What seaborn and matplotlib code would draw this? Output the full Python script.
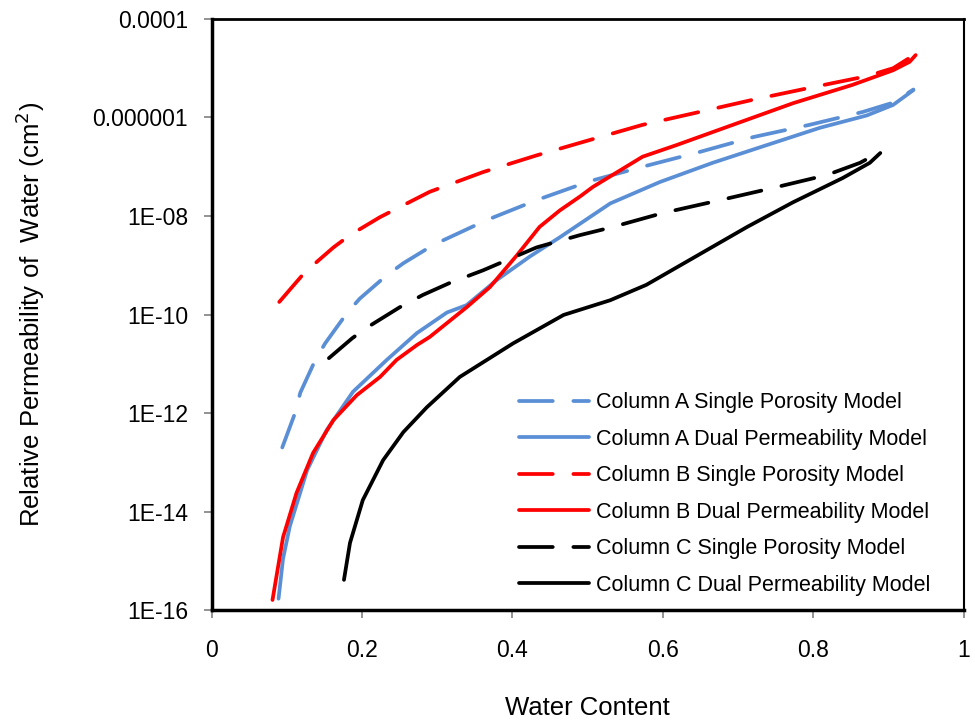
import numpy as np
import pandas as pd
import matplotlib
matplotlib.use("Agg")
import matplotlib.pyplot as plt
import seaborn as sns
from matplotlib.ticker import FixedLocator, FixedFormatter, NullLocator

# ---- data ----
a_single_x = [0.094, 0.111, 0.118, 0.138, 0.151, 0.180, 0.197, 0.233, 0.255, 0.295, 0.366, 0.432,
              0.503, 0.573, 0.649, 0.720, 0.795, 0.866, 0.906, 0.933]
a_single_y = [2.0e-13, 1.0e-12, 2.6e-12, 1.2e-11, 2.6e-11, 1.07e-10, 2.1e-10, 6.3e-10, 1.1e-9, 2.6e-9,
              8.3e-9, 2.1e-8, 5.1e-8, 1.0e-7, 2.0e-7, 4.0e-7, 7.1e-7, 1.3e-6, 2.0e-6, 3.7e-6]

a_dual_x = [0.089, 0.095, 0.104, 0.127, 0.153, 0.188, 0.233, 0.273, 0.313, 0.339, 0.379, 0.423,
            0.463, 0.530, 0.596, 0.666, 0.738, 0.809, 0.871, 0.906, 0.933]
a_dual_y = [1.7e-16, 1.1e-15, 5.0e-15, 6.9e-14, 4.5e-13, 2.7e-12, 1.2e-11, 4.2e-11, 1.1e-10, 1.55e-10,
            5.0e-10, 1.5e-9, 3.7e-9, 1.8e-8, 4.9e-8, 1.2e-7, 2.75e-7, 6.2e-7, 1.1e-6, 1.8e-6, 3.6e-6]

b_single_x = [0.090, 0.124, 0.162, 0.184, 0.224, 0.290, 0.361, 0.432, 0.503, 0.573, 0.649, 0.720,
              0.795, 0.871, 0.906, 0.935]
b_single_y = [1.8e-10, 7.2e-10, 2.3e-9, 4.1e-9, 9.5e-9, 3.1e-8, 7.8e-8, 1.7e-7, 3.5e-7, 7.1e-7,
              1.3e-6, 2.3e-6, 4.0e-6, 6.9e-6, 1.0e-5, 1.9e-5]

b_dual_x = [0.081, 0.095, 0.113, 0.135, 0.162, 0.193, 0.224, 0.246, 0.273, 0.290, 0.339, 0.370,
            0.406, 0.436, 0.463, 0.490, 0.507, 0.573, 0.618, 0.693, 0.773, 0.852, 0.906, 0.928, 0.936]
b_dual_y = [1.6e-16, 3.0e-15, 2.4e-14, 1.55e-13, 7.2e-13, 2.3e-12, 5.4e-12, 1.2e-11, 2.4e-11, 3.5e-11,
            1.4e-10, 3.6e-10, 1.6e-9, 6.0e-9, 1.3e-8, 2.5e-8, 3.9e-8, 1.6e-7, 2.75e-7, 7.1e-7,
            1.95e-6, 4.6e-6, 9.1e-6, 1.35e-5, 1.85e-5]

c_single_x = [0.156, 0.187, 0.208, 0.250, 0.281, 0.317, 0.361, 0.383, 0.432, 0.490, 0.530, 0.600,
              0.676, 0.746, 0.818, 0.862, 0.886]
c_single_y = [1.3e-11, 3.3e-11, 5.6e-11, 1.4e-10, 2.5e-10, 4.4e-10, 7.9e-10, 1.1e-9, 2.3e-9, 4.1e-9,
              5.8e-9, 1.15e-8, 2.1e-8, 3.7e-8, 6.8e-8, 1.2e-7, 1.9e-7]

c_dual_x = [0.176, 0.184, 0.201, 0.228, 0.255, 0.286, 0.330, 0.401, 0.468, 0.530, 0.578, 0.640,
            0.712, 0.773, 0.839, 0.875, 0.889]
c_dual_y = [4.1e-16, 2.3e-15, 1.7e-14, 1.1e-13, 4.1e-13, 1.3e-12, 5.4e-12, 2.6e-11, 9.8e-11,
            1.95e-10, 4.0e-10, 1.4e-9, 6.0e-9, 1.9e-8, 5.9e-8, 1.2e-7, 1.9e-7]

series_labels = ["Column A Single Porosity Model", "Column A Dual Permeability Model",
                 "Column B Single Porosity Model", "Column B Dual Permeability Model",
                 "Column C Single Porosity Model", "Column C Dual Permeability Model"]

y_tick_values = [1e-16, 1e-14, 1e-12, 1e-10, 1e-8, 1e-6, 1e-4]
y_tick_labels = ["1E-16", "1E-14", "1E-12", "1E-10", "1E-08", "0.000001", "0.0001"]
x_tick_values = [0, 0.2, 0.4, 0.6, 0.8, 1]
x_tick_labels = ["0", "0.2", "0.4", "0.6", "0.8", "1"]

# ---- styling ----
sns.set_theme(style="white")
plt.rcParams["font.family"] = ["Liberation Sans", "DejaVu Sans"]
plt.rcParams["text.color"] = "black"
plt.rcParams["axes.labelcolor"] = "black"

BLUE = "#5B8FD5"
RED = "#FF0000"
BLACK = "#000000"

fig = plt.figure(figsize=(9.75, 7.25), dpi=100)
ax = fig.add_axes([0.217, 0.1586, 0.7715, 0.8152])

series = [
    (a_single_x, a_single_y, BLUE, True),
    (a_dual_x, a_dual_y, BLUE, False),
    (b_single_x, b_single_y, RED, True),
    (b_dual_x, b_dual_y, RED, False),
    (c_single_x, c_single_y, BLACK, True),
    (c_dual_x, c_dual_y, BLACK, False),
]

for (xs, ys, col, dashed), lab in zip(series, series_labels):
    df = pd.DataFrame({"x": xs, "y": ys})
    kw = dict(linestyle=(0, (9, 5.5))) if dashed else dict(linestyle="-")
    sns.lineplot(data=df, x="x", y="y", ax=ax, sort=False, estimator=None, color=col,
                 linewidth=2.7, label=lab, dash_capstyle="round", solid_capstyle="round",
                 solid_joinstyle="round", **kw)

ax.set_yscale("log")
ax.set_xlim(0, 1)
ax.set_ylim(1e-16, 1e-4)
ax.yaxis.set_major_locator(FixedLocator(y_tick_values))
ax.yaxis.set_major_formatter(FixedFormatter(y_tick_labels))
ax.yaxis.set_minor_locator(NullLocator())
ax.xaxis.set_major_locator(FixedLocator(x_tick_values))
ax.xaxis.set_major_formatter(FixedFormatter(x_tick_labels))

ax.tick_params(axis="both", which="major", direction="out", length=6, width=1.2,
               color="#808080", labelsize=16.5, labelcolor="black", left=True, bottom=True)
ax.tick_params(axis="y", pad=11)
ax.tick_params(axis="x", pad=15)

for side, lw in [("left", 2.5), ("bottom", 2.5), ("top", 2.0), ("right", 1.5)]:
    ax.spines[side].set_visible(True)
    ax.spines[side].set_color("black")
    ax.spines[side].set_linewidth(lw)

ax.set_xlabel("Water Content", fontsize=18.5, labelpad=24, color="black")
ax.set_ylabel("Relative Permeability of  Water (cm$^2$)", fontsize=18.5, labelpad=33, color="black")

leg = ax.legend(loc="lower right", bbox_to_anchor=(0.982, -0.009), frameon=False, fontsize=15.5,
                handlelength=3.25, handletextpad=0.37, labelspacing=0.72, labelcolor="black")
ax.grid(False)

fig.savefig("out.png", dpi=100)
